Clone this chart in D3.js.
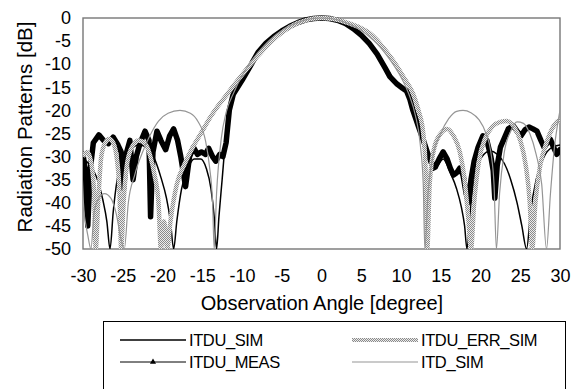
<!DOCTYPE html>
<html>
<head>
<meta charset="utf-8">
<script src="https://cdn.jsdelivr.net/npm/d3@7"></script>
<style>
  body { margin: 0; background: #fff; }
  svg { display: block; font-family: "Liberation Sans", Arial, sans-serif; }
</style>
</head>
<body>
<svg width="572" height="389"></svg>
<script>
// tick labels
var xTicks = [-30, -25, -20, -15, -10, -5, 0, 5, 10, 15, 20, 25, 30];
var yTicks = [0, -5, -10, -15, -20, -25, -30, -35, -40, -45, -50];

// [angle in degree, pattern in dB]
var itduSim = [[-30, -30.5], [-29.3, -31.5], [-28.3, -34.4], [-27.5, -39.4], [-27, -44], [-26.6, -50],
  [-26.2, -42], [-25.7, -35], [-25, -31], [-24, -28.5], [-23, -27.5], [-22, -28], [-21, -30.5],
  [-20.2, -34.5], [-19.5, -39], [-19, -44], [-18.6, -50], [-18.2, -44], [-17.6, -37], [-16.8, -32.5],
  [-16, -30.5], [-15.2, -30.5], [-14.5, -32.5], [-13.9, -37], [-13.5, -43], [-13.2, -50], [-12.9, -43],
  [-12.5, -35], [-12.1, -27], [-11.6, -21], [-11, -17], [-10, -14], [-9, -11], [-8, -8.2], [-7, -6],
  [-6, -4.3], [-5, -3], [-4, -1.9], [-3, -1.1], [-2, -0.5], [-1, -0.1], [0, 0], [1, -0.1], [2, -0.5],
  [3, -1.2], [4, -2.2], [5, -3.6], [6, -5.4], [7, -7.6], [8, -10.3], [9, -13], [10, -15], [10.8, -16.3],
  [11.5, -19.5], [12.2, -23.5], [12.8, -27], [13.4, -30.5], [14, -33], [14.6, -32], [15.3, -30.5],
  [16.2, -33.5], [17, -37], [17.6, -41], [18, -45], [18.3, -50], [18.7, -42], [19.3, -34], [20.2, -30],
  [21.2, -28.8], [22.1, -29.5], [23, -31.5], [23.8, -35], [24.6, -40], [25.2, -45], [25.8, -50],
  [26.3, -42], [27, -35], [28, -30], [29, -28], [30, -27.5]];

var itduMeas = [[-30, -29.5], [-29.7, -33], [-29.4, -45], [-29.1, -33], [-28.7, -27], [-28, -25.3],
  [-27.4, -26.5], [-26.8, -27.2], [-26.2, -25.8], [-25.6, -27.5], [-25.2, -29], [-24.9, -37], [-24.5, -29],
  [-24.1, -26.5], [-23.7, -35], [-23.3, -30], [-22.8, -27], [-22.2, -24.5], [-21.7, -26.5], [-21.5, -43],
  [-21.2, -29], [-20.7, -24.5], [-20.2, -26.5], [-19.6, -28.5], [-19.1, -25.5], [-18.6, -24], [-18.1, -26.5],
  [-17.7, -30], [-17.1, -36.5], [-16.6, -30], [-16.1, -28], [-15.6, -29.5], [-15.1, -29], [-14.6, -29.5],
  [-14.2, -28.2], [-13.7, -30], [-13.3, -31], [-12.8, -29.5], [-12.4, -30], [-12, -27], [-11.6, -20],
  [-11.1, -16.5], [-10, -13.5], [-9, -10.5], [-8, -7.5], [-7, -5.5], [-6, -4], [-5, -2.8], [-4, -1.8],
  [-3, -1], [-2, -0.4], [-1, -0.1], [0, 0], [1, -0.1], [2, -0.5], [3, -1.2], [4, -2.3], [5, -3.7],
  [6, -5.5], [7, -7.8], [8, -10.8], [8.6, -12.7], [9.5, -14.3], [10.2, -15.2], [10.7, -15.8], [11.1, -17.5],
  [11.5, -20], [12.2, -23.5], [12.8, -26.4], [13.4, -29.5], [13.9, -31.5], [14.3, -32.3], [14.8, -30.5],
  [15.3, -29], [15.8, -30.5], [16.2, -32.5], [16.6, -34], [17, -33.5], [17.4, -32.5], [17.8, -34],
  [18.2, -38], [18.5, -40], [18.8, -35], [19.2, -31], [19.7, -28], [20.3, -25.5], [20.8, -26.5],
  [21.3, -30], [21.6, -33], [21.8, -39], [22.1, -32], [22.5, -28], [23, -26], [23.5, -24], [24.1, -23.3],
  [24.6, -24.5], [25.1, -25.5], [25.6, -24.2], [26.1, -23.6], [26.6, -24], [27.1, -24.5], [27.6, -26.5],
  [28, -28], [28.4, -27], [28.8, -26.3], [29.2, -28], [29.6, -29.5], [30, -28.5]];

var itduErrSim = [[-30, -30], [-29.5, -29], [-29, -31], [-28.6, -38], [-28.4, -50], [-28.1, -40],
  [-27.7, -30], [-27.2, -27], [-26.7, -26.2], [-26.2, -27], [-25.7, -31], [-25.4, -38], [-25.2, -50],
  [-24.9, -40], [-24.4, -31], [-23.7, -27.5], [-23, -26.5], [-22.3, -27], [-21.6, -29.5], [-21, -34],
  [-20.5, -40], [-20.2, -50], [-19.8, -44], [-19.4, -50], [-19, -44], [-18.2, -36], [-17.2, -31.5],
  [-16.2, -28], [-15, -24.5], [-14, -21.5], [-13, -19], [-12, -16.8], [-11, -14.5], [-10, -12.3],
  [-9, -10.2], [-8, -8.2], [-7, -6.3], [-6, -4.6], [-5, -3.2], [-4, -2], [-3, -1.1], [-2, -0.5],
  [-1, -0.1], [0, 0], [1, -0.1], [2, -0.4], [3, -0.9], [4, -1.5], [5, -2.2], [6, -3.2], [7, -4.8],
  [8, -6.9], [9, -9.2], [9.5, -10.5], [10.5, -13.3], [11.5, -16.3], [12.2, -20], [12.8, -25], [13.1, -33],
  [13.3, -50], [13.6, -36], [14.2, -28], [15, -25], [15.8, -24], [16.6, -25.5], [17.4, -29], [18, -35],
  [18.5, -44], [18.8, -50], [19.2, -40], [19.8, -31], [20.6, -26], [21.5, -23.5], [22.5, -22.5],
  [23.3, -22.3], [24.2, -23.5], [25, -26.5], [25.7, -32], [26.2, -40], [26.5, -50], [26.9, -40],
  [27.5, -32], [28.3, -27], [29, -24], [29.6, -22.5], [30, -22]];

var itdSim = [[-30, -41], [-29.4, -47], [-29, -50], [-28.6, -42], [-28, -39], [-27.3, -38], [-26.5, -39],
  [-25.8, -42.5], [-25.2, -48], [-24.8, -50], [-24.3, -40], [-23.5, -34], [-22.5, -29], [-21.6, -25.5],
  [-20.5, -22.3], [-19.3, -20.6], [-17.8, -20], [-16.5, -20.6], [-15.5, -22.5], [-14.6, -26.5],
  [-14.1, -32], [-13.7, -40], [-13.5, -50], [-13.2, -38], [-12.6, -26], [-12, -20.5], [-11, -16],
  [-10, -12.5], [-9, -9.8], [-8, -7.5], [-7, -5.6], [-6, -4], [-5, -2.7], [-4, -1.7], [-3, -1], [-2, -0.4],
  [-1, -0.1], [0, 0], [1, -0.1], [2, -0.4], [3, -1], [4, -1.7], [5, -2.7], [6, -4], [7, -5.6], [8, -7.6],
  [9, -10], [10, -12.8], [11, -16.5], [11.8, -21], [12.4, -27], [12.8, -36], [13, -50], [13.4, -38],
  [14, -30], [15, -25], [16, -21.8], [17, -20.2], [17.8, -20], [18.8, -20.5], [19.8, -22], [20.7, -25],
  [21.3, -29], [21.7, -36], [22, -50], [22.4, -38], [23, -29], [23.8, -24.5], [24.6, -22.5], [25.4, -22.8],
  [26.2, -25], [27, -29.5], [27.7, -36], [28.3, -50], [28.8, -38], [29.3, -28], [29.7, -23], [30, -20]];

var seriesNames = ["ITDU_SIM", "ITDU_ERR_SIM", "ITDU_MEAS", "ITD_SIM"];

var svg = d3.select("svg");
var plot = { left: 83, top: 18, right: 560, bottom: 249 };

var x = d3.scaleLinear().domain([-30, 30]).range([plot.left, plot.right]);
var y = d3.scaleLinear().domain([-50, 0]).range([plot.bottom, plot.top]);

// dithered grey used by the ERR_SIM trace
var defs = svg.append("defs");
var dither = defs.append("pattern")
    .attr("id", "dither")
    .attr("patternUnits", "userSpaceOnUse")
    .attr("width", 2).attr("height", 2);
dither.append("rect").attr("width", 2).attr("height", 2).attr("fill", "#ececec");
dither.append("rect").attr("width", 1).attr("height", 1).attr("fill", "#8a8a8a");
dither.append("rect").attr("x", 1).attr("y", 1).attr("width", 1).attr("height", 1).attr("fill", "#8a8a8a");

defs.append("clipPath").attr("id", "clip")
  .append("rect")
    .attr("x", plot.left).attr("y", plot.top - 4)
    .attr("width", plot.right - plot.left)
    .attr("height", plot.bottom - plot.top + 4);

// plot area frame
svg.append("rect")
    .attr("x", plot.left).attr("y", plot.top)
    .attr("width", plot.right - plot.left)
    .attr("height", plot.bottom - plot.top)
    .attr("fill", "none")
    .attr("stroke", "#777")
    .attr("stroke-width", 1.4);

// axes, labels only (plain hyphen minus like the original)
var plain = function (d) { return String(d); };
svg.append("g")
    .attr("transform", "translate(0," + plot.bottom + ")")
    .call(d3.axisBottom(x).tickValues(xTicks).tickFormat(plain).tickSize(0).tickPadding(20));
svg.append("g")
    .attr("transform", "translate(" + plot.left + ",0)")
    .call(d3.axisLeft(y).tickValues(yTicks).tickFormat(plain).tickSize(0).tickPadding(12));
svg.selectAll(".domain").remove();
svg.selectAll(".tick text")
    .attr("font-family", "Liberation Sans, Arial, sans-serif")
    .attr("font-size", 18)
    .attr("fill", "#000");

svg.append("text")
    .attr("transform", "translate(32,127) rotate(-90)")
    .attr("text-anchor", "middle")
    .attr("font-size", 20.5)
    .text("Radiation Patterns [dB]");

svg.append("text")
    .attr("x", 322).attr("y", 310)
    .attr("text-anchor", "middle")
    .attr("font-size", 20)
    .text("Observation Angle [degree]");

// traces
var smooth = d3.line()
    .x(function (d) { return x(d[0]); })
    .y(function (d) { return y(d[1]); })
    .curve(d3.curveMonotoneX);
var straight = d3.line()
    .x(function (d) { return x(d[0]); })
    .y(function (d) { return y(d[1]); });

var g = svg.append("g").attr("clip-path", "url(#clip)");

g.append("path").datum(itduSim)
    .attr("d", smooth)
    .attr("fill", "none").attr("stroke", "#000").attr("stroke-width", 1.5);

g.append("path").datum(itduMeas)
    .attr("d", straight)
    .attr("fill", "none").attr("stroke", "#000").attr("stroke-width", 5.5)
    .attr("stroke-linejoin", "round").attr("stroke-linecap", "round");

g.append("path").datum(itduErrSim)
    .attr("d", smooth)
    .attr("fill", "none").attr("stroke", "url(#dither)").attr("stroke-width", 4.5);

g.append("path").datum(itdSim)
    .attr("d", smooth)
    .attr("fill", "none").attr("stroke", "#959595").attr("stroke-width", 1.2);

// legend
var legend = svg.append("g");
legend.append("rect")
    .attr("x", 103.5).attr("y", 321.5)
    .attr("width", 462).attr("height", 90)
    .attr("fill", "none").attr("stroke", "#000").attr("stroke-width", 1);

var legendItems = [
  { name: seriesNames[0], col: 0, row: 0 },
  { name: seriesNames[1], col: 1, row: 0 },
  { name: seriesNames[2], col: 0, row: 1 },
  { name: seriesNames[3], col: 1, row: 1 }
];
var colX = [120, 352], rowY = [340, 362];

legendItems.forEach(function (it) {
  var lx = colX[it.col], ly = rowY[it.row];
  var line = legend.append("line")
      .attr("x1", lx).attr("x2", lx + 66)
      .attr("y1", ly).attr("y2", ly);
  if (it.name === "ITDU_SIM") line.attr("stroke", "#000").attr("stroke-width", 1.5);
  if (it.name === "ITDU_MEAS") {
    line.attr("stroke", "#000").attr("stroke-width", 1);
    legend.append("path")
        .attr("transform", "translate(" + (lx + 33) + "," + ly + ")")
        .attr("d", d3.symbol().type(d3.symbolTriangle).size(16)());
  }
  if (it.name === "ITDU_ERR_SIM") line.attr("stroke", "url(#dither)").attr("stroke-width", 4);
  if (it.name === "ITD_SIM") line.attr("stroke", "#959595").attr("stroke-width", 1.2);
  legend.append("text")
      .attr("x", lx + 69).attr("y", ly + 6)
      .attr("font-size", 16.5)
      .attr("letter-spacing", -0.4)
      .text(it.name);
});
</script>
</body>
</html>
